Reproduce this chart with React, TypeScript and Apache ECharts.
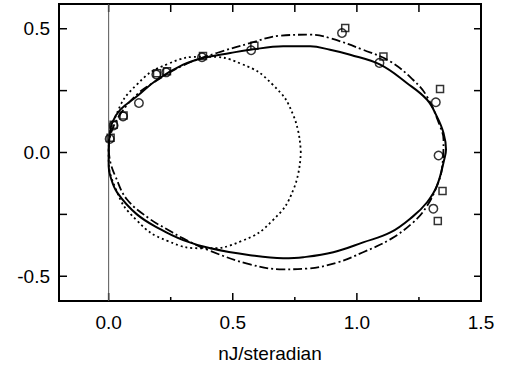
import React, { useEffect, useRef } from "react";
import * as echarts from "echarts";

const X_MIN = -0.2;
const X_MAX = 1.5;
const Y_MIN = -0.6;
const Y_MAX = 0.6;

const xTicks = [0, 0.25, 0.5, 0.75, 1.0, 1.25, 1.5];
const yTicks = [-0.5, -0.25, 0, 0.25, 0.5];
const xLabels = [0, 0.5, 1.0, 1.5];
const yLabels = [-0.5, 0, 0.5];

const solidCurve: number[][] = [
  [0.0, 0.0], [0.003, 0.06], [0.014, 0.12], [0.047, 0.173], [0.114, 0.227],
  [0.195, 0.294], [0.3, 0.355], [0.381, 0.382], [0.49, 0.402], [0.57, 0.415],
  [0.703, 0.429], [0.812, 0.429], [0.892, 0.415], [0.973, 0.395], [1.094, 0.355],
  [1.201, 0.281], [1.282, 0.214], [1.322, 0.146], [1.349, 0.079], [1.359, 0.012],
  [1.355, -0.015], [1.322, -0.136], [1.282, -0.202], [1.227, -0.257], [1.135, -0.323],
  [1.025, -0.363], [0.905, -0.403], [0.784, -0.423], [0.703, -0.427], [0.57, -0.415],
  [0.41, -0.387], [0.3, -0.354], [0.208, -0.31], [0.114, -0.25], [0.034, -0.161],
  [0.007, -0.096], [0.0, -0.055], [0.0, 0.0],
];

const dashDotCurve: number[][] = [
  [0.0, 0.012], [0.01, 0.08], [0.05, 0.16], [0.12, 0.24], [0.18, 0.282],
  [0.3, 0.352], [0.436, 0.402], [0.57, 0.442], [0.691, 0.472], [0.812, 0.476],
  [0.892, 0.462], [1.025, 0.415], [1.134, 0.368], [1.226, 0.294], [1.282, 0.227],
  [1.335, 0.106], [1.349, 0.052], [1.342, -0.069], [1.322, -0.136], [1.282, -0.217],
  [1.227, -0.282], [1.134, -0.351], [1.025, -0.403], [0.919, -0.445], [0.799, -0.469],
  [0.703, -0.472], [0.57, -0.452], [0.41, -0.398], [0.3, -0.347], [0.235, -0.31],
  [0.168, -0.27], [0.074, -0.19], [0.027, -0.096], [0.007, -0.04], [0.0, 0.012],
];

const dottedCircle: number[][] = [
  [0.774, 0], [0.745, 0.148], [0.661, 0.274], [0.535, 0.358], [0.387, 0.387],
  [0.239, 0.358], [0.113, 0.274], [0.029, 0.148], [0, 0], [0.029, -0.148],
  [0.113, -0.274], [0.239, -0.358], [0.387, -0.387], [0.535, -0.358], [0.661, -0.274],
  [0.745, -0.148], [0.774, 0],
];

const circlePoints: number[][] = [
  [0.004, 0.055], [0.02, 0.109], [0.058, 0.146], [0.122, 0.2], [0.192, 0.315],
  [0.232, 0.324], [0.376, 0.385], [0.574, 0.413], [0.94, 0.483], [1.091, 0.362],
  [1.318, 0.203], [1.329, -0.012], [1.308, -0.227],
];

const squarePoints: number[][] = [
  [0.008, 0.06], [0.02, 0.112], [0.06, 0.15], [0.195, 0.32], [0.235, 0.328],
  [0.38, 0.39], [0.587, 0.431], [0.953, 0.503], [1.107, 0.388], [1.335, 0.257],
  [1.345, -0.156], [1.326, -0.277],
];

const zeroLine: number[][] = [[0, Y_MIN], [0, Y_MAX]];

const isMajor = (v: number) => Math.abs(v * 2 - Math.round(v * 2)) < 1e-6;
const FONT = "Liberation Sans, Arial, Helvetica, sans-serif";
const FONT_SIZE = 19;

export default function App() {
  const ref = useRef<HTMLDivElement>(null);
  useEffect(() => {
    if (!ref.current) return;
    const chart = echarts.init(ref.current, undefined, { renderer: "svg" });
    const textStyle = (text: string, x: number, y: number, align: string) => ({
      type: "text",
      x, y,
      style: {
        text, fill: "#000", font: `${FONT_SIZE}px ${FONT}`,
        textAlign: align, textVerticalAlign: "middle",
      },
    });
    chart.setOption({
      animation: false,
      backgroundColor: "#ffffff",
      grid: {
        left: 59, top: 4, right: 24, bottom: 66,
        show: true, borderColor: "#000", borderWidth: 2, backgroundColor: "transparent",
      },
      xAxis: {
        type: "value", min: X_MIN, max: X_MAX, splitNumber: 4,
        axisLine: { show: false }, axisTick: { show: false }, splitLine: { show: false },
        axisLabel: { show: false },
        name: "nJ/steradian", nameLocation: "middle", nameGap: 43,
        nameTextStyle: { color: "#000", fontSize: FONT_SIZE, fontFamily: FONT },
      },
      yAxis: {
        type: "value", min: Y_MIN, max: Y_MAX, splitNumber: 3,
        axisLine: { show: false }, axisTick: { show: false }, splitLine: { show: false },
        axisLabel: { show: false },
      },
      series: [
        {
          type: "line", data: zeroLine, symbol: "none", silent: true,
          lineStyle: { color: "#555", width: 1 },
        },
        {
          type: "line", data: dottedCircle, symbol: "none", smooth: 0.5,
          lineStyle: { color: "#000", width: 1.8, type: [2, 3] },
        },
        {
          type: "line", data: dashDotCurve, symbol: "none", smooth: 0.4,
          lineStyle: { color: "#000", width: 1.8, type: [9, 3, 2, 3] },
        },
        {
          type: "line", data: solidCurve, symbol: "none", smooth: 0.4,
          lineStyle: { color: "#000", width: 2 },
        },
        {
          type: "scatter", data: circlePoints, symbol: "circle", symbolSize: 8.5,
          itemStyle: { color: "rgba(255,255,255,0)", borderColor: "#000", borderWidth: 1.5 },
        },
        {
          type: "scatter", data: squarePoints, symbol: "rect", symbolSize: 7,
          itemStyle: { color: "rgba(255,255,255,0)", borderColor: "#000", borderWidth: 1.5 },
        },
        {
          type: "custom", silent: true,
          data: xTicks.map((v) => [v, 0]),
          renderItem: (_p: any, api: any) => {
            const v = api.value(0);
            const b = api.coord([v, Y_MIN]);
            const t = api.coord([v, Y_MAX]);
            const len = isMajor(v) ? 8 : 4;
            const style = { stroke: "#000", lineWidth: 1.5 };
            return {
              type: "group",
              children: [
                { type: "line", shape: { x1: b[0], y1: b[1], x2: b[0], y2: b[1] - len }, style },
                { type: "line", shape: { x1: t[0], y1: t[1], x2: t[0], y2: t[1] + 8 }, style },
              ],
            };
          },
        },
        {
          type: "custom", silent: true,
          data: yTicks.map((v) => [0, v]),
          renderItem: (_p: any, api: any) => {
            const v = api.value(1);
            const l = api.coord([X_MIN, v]);
            const r = api.coord([X_MAX, v]);
            const style = { stroke: "#000", lineWidth: 1.5 };
            return {
              type: "group",
              children: [
                { type: "line", shape: { x1: l[0], y1: l[1], x2: l[0] + 8, y2: l[1] }, style },
                { type: "line", shape: { x1: r[0], y1: r[1], x2: r[0] - 7, y2: r[1] }, style },
              ],
            };
          },
        },
        {
          type: "custom", silent: true,
          data: xLabels.map((v) => [v, 0]),
          renderItem: (_p: any, api: any) => {
            const v = api.value(0);
            const b = api.coord([v, Y_MIN]);
            return textStyle(v.toFixed(1), b[0], b[1] + 21, "center");
          },
        },
        {
          type: "custom", silent: true,
          data: yLabels.map((v) => [0, v]),
          renderItem: (_p: any, api: any) => {
            const v = api.value(1);
            const l = api.coord([X_MIN, v]);
            return textStyle(v.toFixed(1), l[0] - 9, l[1], "right");
          },
        },
      ],
    });
    return () => chart.dispose();
  }, []);
  return <div ref={ref} style={{ width: 505, height: 368, position: "absolute", left: 0, top: 0 }} />;
}
